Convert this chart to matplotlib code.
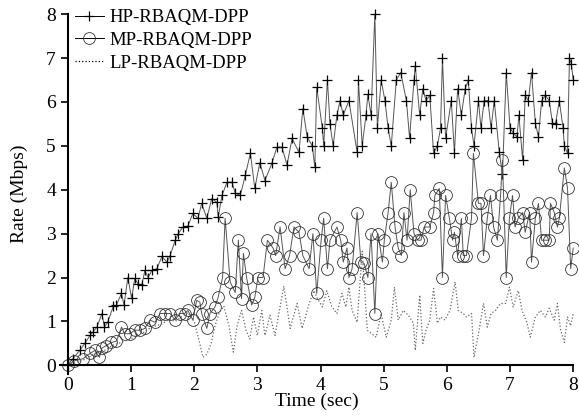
import matplotlib
matplotlib.use('Agg')
import matplotlib.pyplot as plt

# HP-RBAQM-DPP
hp_t = [0, 0.08, 0.19, 0.27, 0.35, 0.4, 0.46, 0.54, 0.58, 0.63,
        0.72, 0.77, 0.85, 0.89, 0.95, 1.01, 1.06, 1.11, 1.17, 1.22,
        1.27, 1.33, 1.41, 1.49, 1.57, 1.62, 1.7, 1.75, 1.82, 1.9,
        1.98, 2.06, 2.12, 2.2, 2.28, 2.36, 2.38, 2.44, 2.52, 2.6,
        2.65, 2.73, 2.81, 2.89, 2.96, 3.04, 3.12, 3.23, 3.31, 3.39,
        3.47, 3.55, 3.66, 3.72, 3.79, 3.87, 3.91, 3.94, 4.03, 4.05,
        4.11, 4.15, 4.2, 4.26, 4.31, 4.36, 4.45, 4.58, 4.6, 4.66,
        4.72, 4.75, 4.8, 4.86, 4.9, 4.96, 5.02, 5.07, 5.12, 5.2,
        5.27, 5.36, 5.41, 5.48, 5.5, 5.57, 5.62, 5.67, 5.73, 5.79,
        5.85, 5.9, 5.93, 5.98, 6.07, 6.12, 6.17, 6.23, 6.29, 6.34,
        6.39, 6.43, 6.5, 6.54, 6.59, 6.65, 6.7, 6.75, 6.83, 6.88,
        6.94, 7.0, 7.05, 7.11, 7.14, 7.2, 7.24, 7.29, 7.34, 7.4,
        7.45, 7.5, 7.56, 7.62, 7.67, 7.72, 7.78, 7.84, 7.86, 7.91,
        7.94, 7.97, 8.0]
hp_v = [0, 0.15, 0.34, 0.5, 0.68, 0.76, 0.87, 1.18, 0.87, 0.98,
        1.34, 1.37, 1.64, 1.37, 2.0, 1.53, 1.98, 1.86, 1.82, 2.16,
        2.0, 2.16, 2.2, 2.48, 2.35, 2.5, 2.85, 3.0, 3.15, 3.17,
        3.46, 3.35, 3.69, 3.35, 3.8, 3.71, 3.37, 3.87, 4.17, 4.17,
        3.92, 3.87, 4.33, 4.83, 4.03, 4.62, 4.21, 4.6, 4.97, 4.97,
        4.56, 5.17, 4.85, 5.85, 5.2, 5.0, 4.51, 6.33, 5.4, 5.0,
        6.5, 5.5, 5.0, 5.7, 6.03, 5.7, 6.03, 4.85, 6.5, 5.0,
        5.7, 6.17, 5.7, 8.0, 5.4, 6.5, 6.03, 5.4, 5.0, 6.5,
        6.67, 6.03, 5.17, 6.5, 6.83, 5.7, 6.3, 6.03, 6.15, 4.83,
        5.0, 5.4, 7.0, 5.17, 6.03, 4.83, 6.3, 5.7, 6.3, 6.5,
        5.4, 5.0, 6.03, 5.4, 6.03, 6.03, 5.4, 6.03, 4.85, 4.35,
        6.67, 5.4, 5.3, 5.2, 5.7, 4.67, 6.15, 6.03, 6.67, 5.53,
        5.2, 6.03, 6.15, 6.03, 5.53, 5.5, 6.03, 5.4, 5.0, 4.83,
        7.0, 6.87, 6.5]

# MP-RBAQM-DPP
mp_t = [0, 0.1, 0.24, 0.35, 0.43, 0.5, 0.54, 0.61, 0.69, 0.77,
        0.85, 0.9, 0.98, 1.06, 1.14, 1.22, 1.3, 1.38, 1.46, 1.54,
        1.62, 1.7, 1.77, 1.85, 1.9, 1.98, 2.04, 2.09, 2.12, 2.2,
        2.25, 2.33, 2.38, 2.45, 2.49, 2.57, 2.65, 2.7, 2.75, 2.78,
        2.83, 2.91, 2.96, 3.01, 3.09, 3.16, 3.25, 3.29, 3.36, 3.44,
        3.51, 3.58, 3.66, 3.72, 3.82, 3.88, 3.94, 4.01, 4.05, 4.11,
        4.15, 4.26, 4.32, 4.36, 4.42, 4.45, 4.5, 4.58, 4.64, 4.69,
        4.75, 4.8, 4.86, 4.91, 4.98, 5.01, 5.07, 5.12, 5.18, 5.23,
        5.28, 5.32, 5.37, 5.42, 5.48, 5.54, 5.59, 5.64, 5.73, 5.79,
        5.81, 5.88, 5.93, 5.98, 6.04, 6.09, 6.12, 6.17, 6.23, 6.26,
        6.31, 6.39, 6.42, 6.5, 6.54, 6.58, 6.64, 6.69, 6.74, 6.8,
        6.85, 6.88, 6.94, 6.99, 7.04, 7.08, 7.13, 7.2, 7.24, 7.31,
        7.34, 7.4, 7.45, 7.5, 7.56, 7.62, 7.64, 7.7, 7.75, 7.78,
        7.86, 7.91, 7.96, 8.0]
mp_v = [0, 0.1, 0.15, 0.27, 0.34, 0.18, 0.39, 0.45, 0.52, 0.55,
        0.87, 0.72, 0.72, 0.8, 0.8, 0.84, 1.03, 0.98, 1.18, 1.18,
        1.18, 1.03, 1.18, 1.18, 1.25, 1.03, 1.48, 1.44, 1.18, 0.84,
        1.18, 1.33, 1.55, 2.0, 3.35, 1.9, 1.66, 2.85, 1.52, 2.55,
        2.0, 1.37, 1.55, 2.0, 2.0, 2.85, 2.67, 2.5, 3.15, 2.2,
        2.5, 3.15, 3.03, 2.5, 2.2, 3.0, 1.64, 2.85, 3.35, 2.2,
        2.85, 3.15, 2.85, 2.35, 2.67, 2.0, 2.2, 3.48, 2.35, 2.32,
        2.0, 3.0, 1.18, 3.0, 2.35, 2.85, 3.48, 4.17, 3.15, 2.67,
        2.5, 3.48, 2.85, 4.0, 3.0, 2.85, 2.85, 3.15, 3.15, 3.48,
        3.87, 4.03, 2.0, 3.87, 3.35, 2.85, 3.03, 2.5, 3.35, 2.5,
        2.5, 3.35, 4.83, 3.69, 3.69, 2.5, 3.35, 3.87, 3.15, 2.85,
        3.87, 4.67, 2.0, 3.35, 3.87, 3.15, 3.35, 3.48, 3.03, 3.48,
        2.35, 3.35, 3.69, 2.85, 2.85, 2.85, 3.69, 3.48, 3.15, 3.35,
        4.5, 4.03, 2.2, 2.67]

# LP-RBAQM-DPP
lp_t = [0, 0.1, 0.2, 0.3, 0.4, 0.5, 0.6, 0.7, 0.8, 0.9,
        1.0, 1.1, 1.2, 1.3, 1.4, 1.5, 1.6, 1.7, 1.8, 1.9,
        2.0, 2.08, 2.14, 2.2, 2.27, 2.33, 2.4, 2.47, 2.55, 2.62,
        2.68, 2.75, 2.82, 2.88, 2.94, 3.0, 3.07, 3.12, 3.2, 3.28,
        3.34, 3.42, 3.52, 3.63, 3.71, 3.82, 3.9, 3.94, 4.03, 4.1,
        4.18, 4.26, 4.34, 4.4, 4.45, 4.5, 4.58, 4.66, 4.74, 4.88,
        4.96, 5.04, 5.12, 5.17, 5.23, 5.31, 5.39, 5.47, 5.5, 5.57,
        5.62, 5.67, 5.73, 5.79, 5.85, 5.9, 5.97, 6.05, 6.13, 6.18,
        6.26, 6.31, 6.39, 6.43, 6.5, 6.58, 6.64, 6.7, 6.77, 6.85,
        6.93, 6.99, 7.05, 7.13, 7.19, 7.27, 7.32, 7.4, 7.48, 7.56,
        7.62, 7.7, 7.75, 7.8, 7.86, 7.91, 7.96, 8.0]
lp_v = [0, 0.05, 0.1, 0.15, 0.25, 0.3, 0.35, 0.45, 0.5, 0.55,
        0.6, 0.7, 0.75, 0.85, 0.9, 0.95, 1.05, 1.0, 1.1, 1.2,
        1.0, 0.55, 0.18, 0.25, 0.5, 0.9, 1.2, 1.35, 0.9, 0.3,
        0.9, 1.25, 0.8, 0.6, 1.1, 0.68, 1.25, 0.68, 1.14, 0.68,
        1.18, 1.8, 0.84, 1.41, 0.84, 1.41, 1.7, 1.55, 1.33, 1.7,
        1.33, 1.18, 1.64, 1.33, 1.78, 1.25, 0.98, 2.6, 0.8, 0.64,
        1.18, 0.64, 1.03, 1.78, 1.03, 1.25, 1.14, 0.96, 0.34, 1.6,
        0.5, 0.8, 1.03, 1.75, 0.96, 1.1, 1.03, 1.25, 1.9, 1.25,
        1.18, 1.1, 1.18, 0.18, 0.72, 1.41, 0.87, 1.18, 1.25, 1.41,
        1.41, 1.78, 1.33, 1.7, 1.25, 0.96, 0.64, 1.1, 1.25, 1.1,
        1.3, 1.03, 1.41, 0.8, 0.52, 1.1, 0.9, 1.18]

x_ticks = [0, 1, 2, 3, 4, 5, 6, 7, 8]
y_ticks = [0, 1, 2, 3, 4, 5, 6, 7, 8]

plt.rcParams['font.family'] = ['Liberation Serif', 'DejaVu Serif']
plt.rcParams['font.size'] = 14

fig = plt.figure(figsize=(5.79, 4.17), dpi=100)
ax = fig.add_axes([0.104, 0.104, 0.886, 0.862])

ax.plot(hp_t, hp_v, color='#555555', lw=0.7, marker='+', ms=7, mew=0.9,
        mec='black', clip_on=False, label='HP-RBAQM-DPP')
ax.plot(mp_t, mp_v, color='#555555', lw=0.7, marker='o', ms=8.5, mew=0.6,
        mfc='none', mec='#333333', clip_on=False, label='MP-RBAQM-DPP')
ax.plot(lp_t, lp_v, color='#666666', lw=0.9, ls=':', clip_on=False,
        label='LP-RBAQM-DPP')

ax.set_xlim(-0.12, 8)
ax.set_ylim(-0.19, 8)
ax.spines['left'].set_position(('data', 0))
ax.spines['bottom'].set_position(('data', 0))
ax.spines['top'].set_visible(False)
ax.spines['right'].set_visible(False)
ax.spines['left'].set_bounds(-0.19, 8)
ax.spines['bottom'].set_bounds(-0.12, 8)
for s in ['left', 'bottom']:
    ax.spines[s].set_linewidth(1.5)
ax.set_xticks(x_ticks)
ax.set_yticks(y_ticks)
ax.tick_params(direction='out', length=5, width=1.2, labelsize=14)

ax.set_xlabel('Time (sec)', fontsize=14, labelpad=-1)
ax.set_ylabel('Rate (Mbps)', fontsize=14)
ax.yaxis.set_label_coords(-0.062, 0.5)

leg = ax.legend(loc='upper left', frameon=False, fontsize=13.5,
                handlelength=1.5, handletextpad=0.3, labelspacing=0.3,
                borderaxespad=0.0, bbox_to_anchor=(0.015, 1.035))
for h in leg.legend_handles:
    h.set_color('black')

plt.savefig('out.png', dpi=100)
